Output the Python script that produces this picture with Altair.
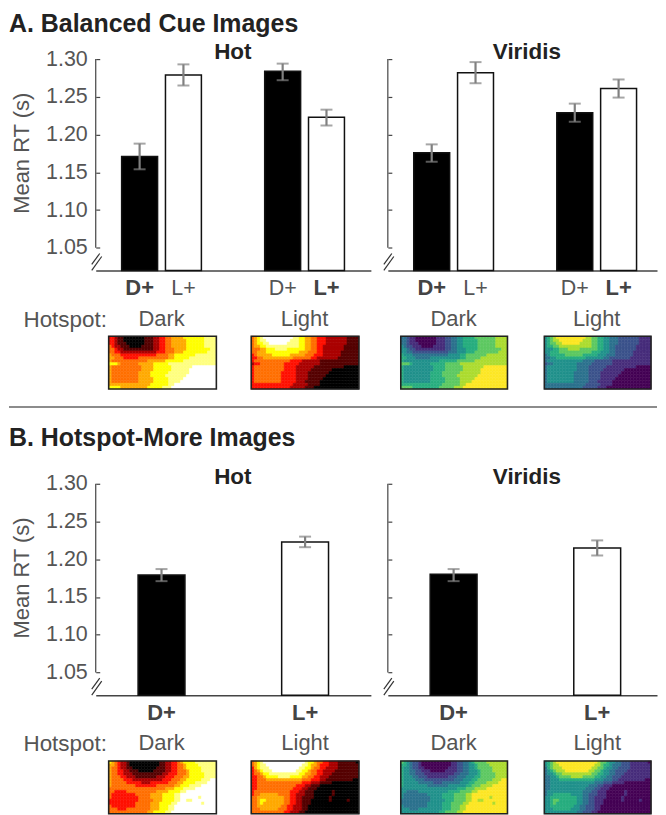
import altair as alt
import pandas as pd

# Bars and error bars.
groups_a = ["Dark", "Dark", "Light", "Light"]
kinds_a = ["D+", "L+", "D+", "L+"]
hot_a_mean = [1.171, 1.279, 1.284, 1.223]
hot_a_low = [1.154, 1.265, 1.272, 1.212]
hot_a_high = [1.188, 1.293, 1.294, 1.233]
vir_a_mean = [1.176, 1.282, 1.229, 1.261]
vir_a_low = [1.164, 1.268, 1.217, 1.249]
vir_a_high = [1.187, 1.296, 1.241, 1.273]

groups_b = ["Dark", "Light"]
kinds_b = ["D+", "L+"]
hot_b_mean = [1.179, 1.223]
hot_b_low = [1.171, 1.216]
hot_b_high = [1.187, 1.230]
vir_b_mean = [1.180, 1.215]
vir_b_low = [1.171, 1.205]
vir_b_high = [1.187, 1.225]

y_ticks = [1.05, 1.10, 1.15, 1.20, 1.25, 1.30]

# Contour level of every heatmap cell, one string per row (spaces are only for reading).
map_a_dark = [
    "33 2 11 0000000 111 22 33 44 5555 6666666 7777",
    "33 2 11 0000000 111 22 33 44 55555 666666 7777",
    "33 2 111 000000 111 22 33 44 55555 666666 7777",
    "43 22 111 0000 1111 22 33 44 55555 66666 67777",
    "44 3 22 1111111111 22 33 444 5555 666666 6677",
    "44 33 222222222222 333 444 555 666666 66777",
    "5444 3 33333333333 4444 55 6666666 7777777",
    "55 444 33333 4444444444 55 66666 777777777",
    "5 444444444444 555555 666666 77777777777",
    "6665 444444 55555 66666 7777777777777777",
    "5 4444444444 5555 666666 7777777 88888888",
    "5 4444444444 5555 666666 777777 888888888",
    "5 444444444 5555 666666 7777777 888888888",
    "5 444444444 5555 66666 7777777 8888888888",
    "5 444444444 55555 66666 77777 88888888888",
    "5 444444444 55555 66666 7777 888888888888",
    "55555555555555 666666 77 88888888888888",
    "6666 555555555 66666 777 888888888888888",
]
map_a_light = [
    "4 5 6 7 8888888888 77 66 55 44 333 2222222 1111",
    "4 5 6 77 88888888 777 66 55 44 333 2222222 1111",
    "4 5 66 77 888888 7777 66 55 44 333 2222222 1111",
    "4 55 66 77777777777 66 55 44 33 2222222 11111",
    "444 55 666 7777 666666 55 44 33 2222222 11111",
    "44 555 66666666666 555 444 33 222222 111111",
    "34 55 555 666666 55555 444 333 222222 111111",
    "33 44 5555555555 444444 33 2222222 1111111",
    "3 444444444444 3333 222222 1111111111111",
    "2334 4444444 33333 2222222 1111111111111",
    "3 4444444444 3333 222222 1111111111 00000",
    "3 4444444444 3333 22222 1111111 000000000",
    "3 444444444 33333 2222 1111111 0000000000",
    "3 444444444 33333 2222 111111 00000000000",
    "3 444444444 33333 2222 11111 000000000000",
    "3 444444444 33333 222 11111 0000000000000",
    "33333333333333 22222 1111 0000000000000",
    "3333333333333 22222 111 000000000000000",
]
map_b_dark = [
    "6543221 0000000000 11223345 6666 7777777",
    "5543221 0000000000 11223344 5666 6777777",
    "5443221 1000000001 11223344 5666 6677777",
    "5443322 1110000011 11223344 4566 6677777",
    "5443322 2111111111 12233344 4566 6667777",
    "5444332 2211111112 22333444 5566 6667777",
    "5444433 3222222222 23334445 5666 6677788",
    "5444443 3333222333 33344455 6666 7777888",
    "5444444 4433333334 44444556 6677 7788888",
    "4444444 4444444444 44555666 7777 8888888",
    "4433334 4444444445 55566667 7888 8888888",
    "4333333 3344444555 56666778 8888 8888888",
    "4333333 3334444555 56666778 8888 8788888",
    "3333333 3334444455 56666778 8778 8888888",
    "3333333 3344444555 66667788 8888 8878888",
    "4333333 3344444555 66677888 8888 8888888",
    "4443334 4444444555 66677888 8888 8888888",
    "4444444 4444445566 66778888 8888 8888888",
]
map_b_light = [
    "4567888 8888888888 87665443 3222 1111110",
    "4567788 8888888888 77655433 3222 1111111",
    "3567778 8888888887 76654433 2222 1111111",
    "3456777 8888888877 66544332 2221 1111111",
    "3445667 7777777776 65544332 2211 1111111",
    "3344566 6677776666 55443322 2111 1111111",
    "3344455 5555555555 44433322 1111 1111100",
    "3344444 4444444444 33322211 1100 0000000",
    "3344444 4444444433 32211100 0000 0000000",
    "3344444 4444444333 22111000 0000 0000000",
    "3444444 4444443332 21110000 0010 0000000",
    "3445555 5544443322 21110000 0010 0000000",
    "4455555 5555443322 11110000 0100 0000000",
    "4456655 5555443322 11100000 0100 0001000",
    "4456555 5555443322 11100000 0000 0000000",
    "4455555 5554433222 11000000 0000 0000000",
    "4445555 5544433222 11000000 0000 0000000",
    "4444444 4444332221 10000000 0000 0000000",
]

hot_colors = ["#000000", "#550000", "#aa0000", "#ff1000", "#ff6f00", "#ffaa00",
              "#ffff00", "#ffff80", "#ffffff"]
viridis_colors = ["#440154", "#472d7b", "#3b528b", "#2c728e", "#21918c", "#28ae80",
                  "#5ec962", "#addc30", "#fde725"]

font = "Liberation Sans"
grey = "#555555"
levels = list(range(9))
H = 212
one_row = pd.DataFrame({"a": [0]})


def heat_table(rows):
    records = []
    for r, row in enumerate(rows):
        cells = row.replace(" ", "")
        assert len(cells) == 36, (r, len(cells))
        for c, ch in enumerate(cells):
            records.append({"c": c, "r": r, "lv": int(ch)})
    return pd.DataFrame(records)


def heatmap(rows, colors, x0, x1):
    scale = alt.Scale(domain=levels, range=colors)
    cells = alt.Chart(heat_table(rows)).mark_rect(strokeWidth=0.5).encode(
        x=alt.X("c:O", axis=None, scale=alt.Scale(range=[x0, x1], paddingInner=0, paddingOuter=0)),
        y=alt.Y("r:O", axis=None, scale=alt.Scale(range=[278, 331], paddingInner=0, paddingOuter=0)),
        color=alt.Color("lv:O", scale=scale, legend=None),
        stroke=alt.Stroke("lv:O", scale=scale, legend=None),
    )
    frame = alt.Chart(one_row).mark_rect(fill="transparent", stroke="#222222", strokeWidth=1.6).encode(
        x=alt.value(x0), x2=alt.value(x1), y=alt.value(278), y2=alt.value(331)
    )
    return cells, frame


def bars(groups, kinds, mean, low, high, padding, offset, left_panel):
    table = pd.DataFrame({"group": groups, "kind": kinds, "mean": mean, "low": low, "high": high})
    table["bold"] = [(g == "Dark") == (k == "D+") for g, k in zip(groups, kinds)]

    x_axis = alt.Axis(
        labelAngle=0, ticks=False, labelPadding=38, labelFontSize=22, labelColor=grey,
        domainColor="#444444", domainWidth=1.5, grid=False,
        title="Hotspot:" if left_panel else "",
        titleX=-73, titleY=56, titleAlign="left", titleBaseline="alphabetic",
        titleFontSize=22.5, titleFontWeight="normal", titleColor=grey,
    )
    y_axis = alt.Axis(
        values=y_ticks, format=".2f", tickSize=4, tickWidth=1.2, tickColor="#444444", offset=-4,
        domain=False, grid=False, labels=left_panel, labelFontSize=21.5, labelColor=grey,
        labelPadding=8.5, title="Mean RT (s)" if left_panel else "",
        titleFontSize=22, titleFontWeight="normal", titleColor=grey, titleX=-66, titleY=94,
    )
    y_scale = alt.Scale(domain=[1.02, 1.30], nice=False, zero=False)
    x = alt.X("group:N", scale=alt.Scale(domain=["Dark", "Light"], **padding), axis=x_axis)
    pos = {"x": x}
    if offset:
        pos["xOffset"] = alt.XOffset(
            "kind:N", scale=alt.Scale(domain=["D+", "L+"], paddingInner=0.18, paddingOuter=0)
        )

    base = alt.Chart(table)
    bar = base.mark_bar(stroke="#111111", strokeWidth=1.5).encode(
        y=alt.Y("mean:Q", scale=y_scale, axis=y_axis),
        y2=alt.datum(1.02),
        color=alt.Color("kind:N", scale=alt.Scale(domain=["D+", "L+"], range=["#000000", "#ffffff"]), legend=None),
        **pos,
    )
    stem = base.mark_rule(color="#808080", strokeWidth=2.2).encode(
        y=alt.Y("low:Q", scale=y_scale, axis=y_axis), y2="high:Q", **pos
    )
    cap_low = base.mark_tick(color="#808080", size=12, thickness=2).encode(
        y=alt.Y("low:Q", scale=y_scale, axis=y_axis), **pos
    )
    cap_high = base.mark_tick(color="#808080", size=12, thickness=2).encode(
        y=alt.Y("high:Q", scale=y_scale, axis=y_axis), **pos
    )
    text_bold = base.transform_filter("datum.bold").mark_text(
        fontSize=22, fontWeight="bold", color="#444444", baseline="alphabetic"
    ).encode(text="kind:N", y=alt.value(H + 25), **pos)
    text_plain = base.transform_filter("!datum.bold").mark_text(
        fontSize=21.5, color=grey, baseline="alphabetic"
    ).encode(text="kind:N", y=alt.value(H + 25), **pos)
    spine = alt.Chart(one_row).mark_rule(color="#444444", strokeWidth=1.2).encode(
        x=alt.value(0), y=alt.datum(1.05), y2=alt.datum(1.30)
    )
    return alt.layer(bar, stem, cap_low, cap_high, text_bold, text_plain, spine)


def axis_break():
    slash = alt.Chart(one_row).mark_rule(color="#333333", strokeWidth=1.2)
    return [
        slash.encode(x=alt.value(-4), x2=alt.value(4), y=alt.value(206), y2=alt.value(195)),
        slash.encode(x=alt.value(-4), x2=alt.value(6), y=alt.value(212), y2=alt.value(198)),
    ]


def panel_title(label, x):
    return alt.Chart(pd.DataFrame({"t": [label]})).mark_text(
        fontSize=22.5, fontWeight="bold", color="#222222", baseline="alphabetic"
    ).encode(text="t:N", x=alt.value(x), y=alt.value(0))


def section_title(label, y):
    return alt.Chart(pd.DataFrame({"t": [label]})).mark_text(
        fontSize=25, fontWeight="bold", color="#222222", align="left", baseline="alphabetic"
    ).encode(text="t:N", x=alt.value(-87), y=alt.value(y))


def panel(bar_layer, title, maps, colors, spans, extras, width):
    heat = []
    for rows, (x0, x1) in zip(maps, spans):
        heat.extend(heatmap(rows, colors, x0, x1))
    chart = alt.layer(bar_layer, *axis_break(), title, *heat, *extras)
    return chart.resolve_scale(x="independent", y="independent", color="independent",
                               stroke="independent").properties(width=width, height=H)


pad_a = {"paddingInner": 0.4425, "paddingOuter": 0.183, "align": 0.495}
pad_b = {"paddingInner": 0.6736, "paddingOuter": 0.295, "align": 0.5}
pad_a_right = {"paddingInner": 0.4425, "paddingOuter": 0.162, "align": 0.559}
pad_b_right = {"paddingInner": 0.6736, "paddingOuter": 0.274, "align": 0.538}
left_spans = [(13, 121), (156, 264)]
right_spans = [(13, 120), (157, 264)]

separator = alt.Chart(one_row).mark_rule(color="#666666", strokeWidth=1.5).encode(
    x=alt.value(-87), x2=alt.value(563), y=alt.value(349)
)
# Keeps the top of the page fixed, so the section title can sit clear of the edge.
top_anchor = alt.Chart(one_row).mark_rule(opacity=0).encode(
    x=alt.value(0), x2=alt.value(1), y=alt.value(-50)
)

hot_a = panel(bars(groups_a, kinds_a, hot_a_mean, hot_a_low, hot_a_high, pad_a, True, True),
              panel_title("Hot", 137.5), [map_a_dark, map_a_light], hot_colors, left_spans,
              [section_title("A. Balanced Cue Images", -27.5), separator, top_anchor], 276)
vir_a = panel(bars(groups_a, kinds_a, vir_a_mean, vir_a_low, vir_a_high, pad_a_right, True, False),
              panel_title("Viridis", 139.5), [map_a_dark, map_a_light], viridis_colors, right_spans, [], 270)
hot_b = panel(bars(groups_b, kinds_b, hot_b_mean, hot_b_low, hot_b_high, pad_b, False, True),
              panel_title("Hot", 137.5), [map_b_dark, map_b_light], hot_colors, left_spans,
              [section_title("B. Hotspot-More Images", -38)], 276)
vir_b = panel(bars(groups_b, kinds_b, vir_b_mean, vir_b_low, vir_b_high, pad_b_right, False, False),
              panel_title("Viridis", 139.5), [map_b_dark, map_b_light], viridis_colors, right_spans, [], 270)

chart = alt.concat(
    hot_a, vir_a, hot_b, vir_b, columns=2, bounds="flush",
    spacing=alt.RowColnumber(row=214, column=17),
).properties(padding=0).configure(font=font).configure_view(stroke=None)

chart.save("out.html", embed_options={"renderer": "svg", "actions": False})
